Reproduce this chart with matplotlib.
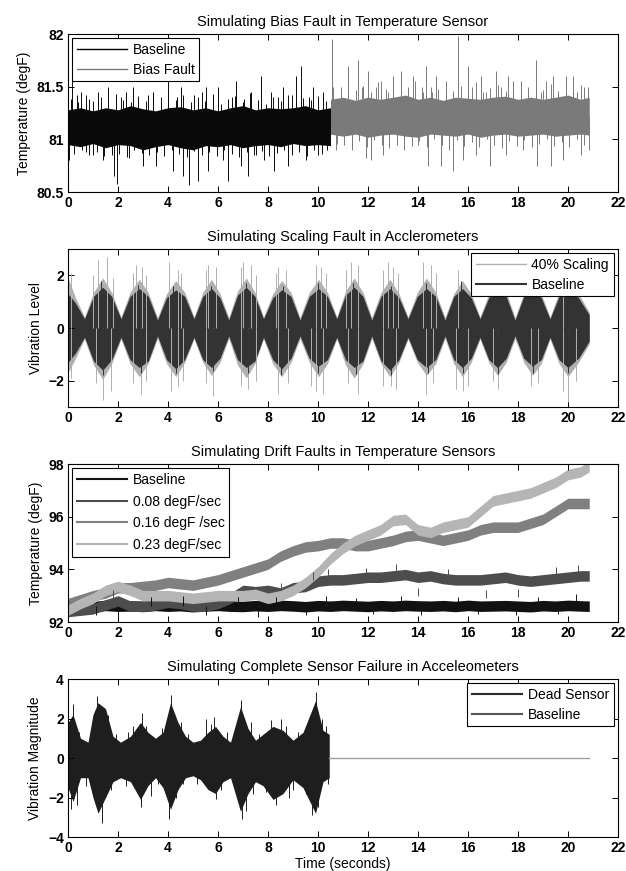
import matplotlib
matplotlib.use('Agg')
from matplotlib import pyplot as plt
from matplotlib.lines import Line2D

plt.rcParams['font.family'] = ['Liberation Sans', 'DejaVu Sans']
plt.rcParams['font.size'] = 9

# ---- panel 1: bias fault in temperature sensor
base_t = [0, 0.5, 1, 1.5, 2, 2.5, 3, 3.5, 4, 4.5, 5, 5.5, 6, 6.5, 7, 7.5, 8, 8.5, 9, 9.5, 10, 10.5]
base_hi = [81.28, 81.3, 81.27, 81.3, 81.28, 81.32, 81.29, 81.27, 81.3, 81.31, 81.28,
           81.3, 81.27, 81.3, 81.32, 81.28, 81.3, 81.29, 81.3, 81.32, 81.28, 81.3]
base_lo = [80.95, 80.93, 80.96, 80.92, 80.95, 80.94, 80.9, 80.93, 80.95, 80.92, 80.9,
           80.94, 80.93, 80.95, 80.92, 80.94, 80.95, 80.93, 80.96, 80.94, 80.95, 80.94]
base_level = 81.12
base_spk_t = [0.05, 0.15, 0.35, 0.5, 0.7, 0.85, 1.0, 1.2, 1.4, 1.6, 1.75, 1.82, 1.95, 2.1, 2.3,
              2.45, 2.6, 2.8, 3.0, 3.2, 3.4, 3.5, 3.7, 3.85, 4.0, 4.2, 4.35, 4.5, 4.6, 4.85,
              5.05, 5.2, 5.35, 5.5, 5.6, 5.8, 6.0, 6.2, 6.4, 6.55, 6.7, 6.9, 7.05, 7.2, 7.3,
              7.5, 7.7, 7.85, 8.1, 8.25, 8.4, 8.6, 8.8, 8.95, 9.1, 9.3, 9.5, 9.65, 9.8, 10.0,
              10.2, 10.35]
base_spk_v = [80.8, 81.95, 81.42, 81.45, 80.88, 81.38, 80.85, 81.45, 80.8, 81.5, 80.85, 80.65,
              80.58, 81.4, 81.45, 80.82, 81.5, 81.38, 80.75, 81.42, 81.45, 80.75, 81.4, 80.85,
              81.55, 80.7, 81.4, 81.5, 80.65, 80.57, 81.42, 80.6, 81.45, 81.5, 80.7, 81.4,
              81.5, 80.8, 80.6, 81.4, 81.55, 80.75, 81.38, 80.65, 81.45, 80.85, 81.6, 80.8,
              81.45, 80.7, 81.4, 81.5, 80.75, 81.42, 81.6, 81.7, 80.8, 81.4, 81.5, 80.85,
              81.45, 80.9]
# fringe of the dense noise, one sample every 0.15 s from t = 0.1
base_fringe = [81.38, 80.86, 81.35, 80.9, 81.42, 80.85, 81.36, 80.88, 81.4, 80.84,
               81.34, 80.89, 81.43, 80.86, 81.37, 80.83, 81.35, 80.9, 81.41, 80.87,
               81.36, 80.85, 81.44, 80.88, 81.34, 80.84, 81.39, 80.9, 81.37, 80.86,
               81.42, 80.83, 81.35, 80.89, 81.4, 80.85, 81.36, 80.88, 81.43, 80.84,
               81.34, 80.9, 81.38, 80.86, 81.41, 80.83, 81.35, 80.88, 81.44, 80.85,
               81.37, 80.89, 81.34, 80.84, 81.4, 80.87, 81.36, 80.9, 81.42, 80.85,
               81.35, 80.88, 81.39, 80.84, 81.37, 80.9, 81.41, 80.86, 81.36]

fault_t = [10.5, 11, 11.5, 12, 12.5, 13, 13.5, 14, 14.5, 15, 15.5, 16, 16.5, 17, 17.5, 18,
           18.5, 19, 19.5, 20, 20.5, 20.85]
fault_hi = [81.38, 81.4, 81.37, 81.4, 81.38, 81.4, 81.42, 81.38, 81.4, 81.37, 81.4,
            81.39, 81.38, 81.4, 81.41, 81.38, 81.4, 81.38, 81.4, 81.42, 81.38, 81.4]
fault_lo = [81.05, 81.03, 81.05, 81.02, 81.04, 81.05, 81.03, 81.02, 81.05, 81.04, 81.03,
            81.05, 81.02, 81.04, 81.05, 81.03, 81.04, 81.05, 81.03, 81.04, 81.05, 81.04]
fault_level = 81.22
fault_spk_t = [10.55, 10.7, 10.9, 11.05, 11.2, 11.35, 11.6, 11.75, 11.9, 12.0, 12.1, 12.3,
               12.5, 12.6, 12.8, 13.0, 13.15, 13.3, 13.45, 13.6, 13.8, 14.0, 14.15, 14.3,
               14.4, 14.55, 14.7, 14.9, 15.1, 15.25, 15.4, 15.6, 15.8, 16.0, 16.15, 16.3,
               16.5, 16.7, 16.9, 17.1, 17.3, 17.5, 17.6, 17.8, 18.1, 18.2, 18.4, 18.7, 18.75,
               18.9, 19.1, 19.3, 19.4, 19.6, 19.8, 19.9, 20.2, 20.35, 20.5, 20.65, 20.8, 20.85]
fault_spk_v = [81.95, 80.9, 81.5, 80.95, 81.7, 80.9, 81.75, 81.5, 80.82, 81.65, 80.8, 81.5,
               81.55, 80.85, 81.45, 81.6, 80.95, 81.65, 80.9, 81.5, 81.6, 80.95, 81.5, 81.7,
               80.75, 81.45, 81.6, 80.75, 81.55, 80.9, 80.7, 81.98, 80.8, 81.7, 81.5, 80.85,
               81.6, 81.45, 80.75, 81.65, 81.5, 80.85, 81.6, 81.45, 81.55, 80.9, 81.5, 81.75,
               80.75, 81.45, 81.55, 80.75, 81.6, 81.45, 80.8, 81.6, 81.6, 81.45, 80.85, 81.5,
               81.5, 80.9]
# fringe, one sample every 0.15 s from t = 10.6
fault_fringe = [81.5, 80.96, 81.46, 81.0, 81.53, 80.94, 81.47, 80.98, 81.51, 80.93,
                81.45, 80.99, 81.54, 80.95, 81.48, 80.92, 81.46, 81.0, 81.52, 80.96,
                81.47, 80.94, 81.55, 80.98, 81.45, 80.93, 81.5, 81.0, 81.48, 80.95,
                81.53, 80.92, 81.46, 80.99, 81.51, 80.94, 81.47, 80.97, 81.54, 80.93,
                81.45, 81.0, 81.49, 80.95, 81.52, 80.92, 81.46, 80.98, 81.55, 80.94,
                81.48, 80.99, 81.45, 80.93, 81.51, 80.96, 81.47, 81.0, 81.53, 80.94,
                81.46, 80.97, 81.5, 80.93, 81.48, 81.0, 81.52, 80.95, 81.47]

# ---- panel 2: scaling fault in accelerometers (envelopes of the vibration)
vib_t = [0, 0.3, 0.66, 1.02, 1.39, 1.75, 2.12, 2.48, 2.85, 3.21, 3.58, 3.94, 4.31, 4.67,
         5.04, 5.39, 5.74, 6.08, 6.43, 6.78, 7.13, 7.48, 7.82, 8.19, 8.55, 8.92, 9.28, 9.65,
         10.02, 10.38, 10.75, 11.1, 11.45, 11.8, 12.15, 12.52, 12.88, 13.24, 13.6, 13.97,
         14.34, 14.71, 15.08, 15.43, 15.78, 16.13, 16.48, 16.83, 17.18, 17.53, 17.88, 18.23,
         18.58, 18.93, 19.28, 19.64, 20.0, 20.42, 20.85]
vib_base_hi = [1.3, 0.95, 0.35, 1.2, 1.55, 1.2, 0.35, 1.2, 1.5, 1.2, 0.3, 1.15, 1.45, 1.2,
               0.35, 1.2, 1.5, 1.15, 0.3, 1.25, 1.55, 1.2, 0.35, 1.15, 1.45, 1.2, 0.3, 1.2,
               1.5, 1.2, 0.35, 1.25, 1.55, 1.2, 0.3, 1.2, 1.5, 1.15, 0.35, 1.2, 1.5, 1.2,
               0.3, 1.2, 1.5, 1.15, 0.35, 1.15, 1.45, 1.2, 0.3, 1.2, 1.5, 1.15, 0.35, 1.2,
               1.5, 1.15, 0.5]
vib_base_lo = [-1.3, -0.95, -0.35, -1.25, -1.6, -1.2, -0.35, -1.2, -1.5, -1.25, -0.3, -1.2,
               -1.55, -1.2, -0.35, -1.2, -1.5, -1.15, -0.3, -1.2, -1.5, -1.25, -0.35, -1.2,
               -1.55, -1.15, -0.3, -1.15, -1.45, -1.2, -0.35, -1.2, -1.5, -1.25, -0.3, -1.25,
               -1.6, -1.2, -0.35, -1.2, -1.5, -1.2, -0.3, -1.2, -1.5, -1.15, -0.35, -1.2,
               -1.5, -1.15, -0.3, -1.15, -1.45, -1.2, -0.35, -1.2, -1.5, -1.15, -0.5]
vib_scale_hi = [1.9, 1.15, 0.42, 1.35, 1.9, 1.35, 0.42, 1.35, 1.85, 1.35, 0.4, 1.3, 1.8, 1.35,
                0.42, 1.35, 1.85, 1.3, 0.4, 1.4, 1.9, 1.35, 0.42, 1.3, 1.8, 1.35, 0.4, 1.35,
                1.85, 1.35, 0.42, 1.4, 1.9, 1.35, 0.4, 1.35, 1.85, 1.3, 0.42, 1.35, 1.9, 1.35,
                0.4, 1.3, 1.8, 1.3, 0.42, 1.3, 1.8, 1.35, 0.4, 1.3, 1.8, 1.3, 0.42, 1.35,
                1.8, 1.3, 0.6]
vib_scale_lo = [-1.7, -1.15, -0.42, -1.4, -1.95, -1.35, -0.42, -1.35, -1.85, -1.35, -0.4,
                -1.35, -1.85, -1.3, -0.42, -1.3, -1.8, -1.3, -0.4, -1.4, -1.9, -1.35, -0.42,
                -1.35, -1.85, -1.3, -0.4, -1.3, -1.85, -1.35, -0.42, -1.4, -1.9, -1.35, -0.4,
                -1.35, -1.85, -1.3, -0.42, -1.3, -1.8, -1.35, -0.4, -1.35, -1.85, -1.3, -0.42,
                -1.3, -1.8, -1.3, -0.4, -1.3, -1.8, -1.35, -0.42, -1.35, -1.85, -1.3, -0.6]
scale_spk_t = [0.1, 1.2, 1.55, 2.7, 2.95, 4.05, 4.4, 5.6, 5.9, 7.0, 7.3, 8.4, 8.7, 9.9, 10.1,
               11.3, 11.6, 12.8, 13.0, 14.2, 14.5, 1.0, 1.8, 2.6, 3.1, 4.5, 5.5, 6.9, 7.5, 8.3,
               10.3, 11.1, 12.6, 13.2, 14.7, 15.6, 19.8,
               0.1, 1.4, 1.7, 2.9, 4.1, 4.4, 5.8, 7.2, 8.4, 9.9, 10.2, 11.6, 12.9, 14.3, 15.5,
               15.8, 17.2, 18.5, 19.8, 20.0, 1.1, 2.6, 3.1, 4.6, 5.5, 6.9, 7.5, 8.8, 9.7, 11.2,
               12.6, 13.1, 14.6, 16.0, 17.0, 18.8, 20.3]
scale_spk_v = [2.1, 2.6, 2.7, 2.4, 2.3, 2.5, 2.2, 2.4, 2.3, 2.5, 2.4, 2.3, 2.2, 2.4, 2.3,
               2.5, 2.4, 2.5, 2.3, 2.5, 2.4, 2.0, 1.9, 2.1, 2.0, 2.1, 2.2, 2.3, 2.0, 2.1,
               2.1, 2.2, 2.2, 2.1, 2.1, 2.2, 2.0,
               -1.9, -2.75, -2.4, -2.5, -2.4, -2.2, -2.6, -2.3, -2.5, -2.4, -2.5, -2.5, -2.2,
               -2.5, -2.3, -2.4, -2.3, -2.2, -2.4, -2.8, -2.1, -2.1, -2.0, -2.0, -2.1, -2.2,
               -2.0, -2.1, -2.2, -2.1, -2.2, -2.3, -2.1, -2.2, -2.0, -2.1, -2.0]
vbase_spk_t = [1.3, 2.8, 4.2, 5.7, 7.1, 8.6, 10.0, 11.4, 12.9, 14.3, 15.7, 20.0,
               1.4, 2.9, 4.3, 5.8, 7.2, 8.5, 10.0, 11.5, 12.9, 14.4, 15.8, 17.2, 18.6, 20.0]
vbase_spk_v = [1.8, 1.65, 1.6, 1.6, 1.7, 1.6, 1.7, 1.7, 1.6, 1.7, 1.8, 1.6,
               -1.8, -1.7, -1.7, -1.65, -1.7, -1.8, -1.7, -1.75, -1.8, -1.7, -1.7, -1.75,
               -1.7, -1.7]

# ---- panel 3: drift faults, band centres every 0.5 s (last sample at 20.85 s)
drift_base = [92.6, 92.62, 92.58, 92.63, 92.6, 92.61, 92.59, 92.63, 92.6, 92.62, 92.58,
              92.61, 92.63, 92.6, 92.59, 92.62, 92.6, 92.63, 92.61, 92.58, 92.62, 92.6,
              92.63, 92.61, 92.59, 92.62, 92.6, 92.63, 92.61, 92.6, 92.62, 92.59, 92.63,
              92.6, 92.61, 92.62, 92.6, 92.58, 92.62, 92.6, 92.63, 92.61, 92.6]
drift_008 = [92.4, 92.45, 92.5, 92.65, 92.8, 92.6, 92.6, 92.65, 92.75, 92.7, 92.6, 92.6,
             92.7, 92.9, 93.2, 93.15, 93.2, 93.1, 93.3, 93.35, 93.55, 93.6, 93.6, 93.65,
             93.7, 93.7, 93.75, 93.8, 93.7, 93.75, 93.65, 93.6, 93.6, 93.6, 93.65, 93.7,
             93.6, 93.55, 93.6, 93.65, 93.7, 93.75, 93.75]
drift_016 = [92.7, 92.85, 93.0, 93.1, 93.3, 93.3, 93.35, 93.4, 93.5, 93.45, 93.4, 93.5,
             93.6, 93.75, 93.9, 94.05, 94.2, 94.5, 94.7, 94.85, 94.9, 95.0, 95.0, 94.9,
             94.9, 95.0, 95.1, 95.25, 95.3, 95.2, 95.1, 95.2, 95.3, 95.5, 95.6, 95.6,
             95.6, 95.75, 95.9, 96.2, 96.5, 96.5, 96.5]
drift_023 = [92.45, 92.7, 92.9, 93.2, 93.35, 93.2, 93.0, 93.0, 93.0, 92.95, 92.9, 92.95,
             93.0, 93.0, 93.0, 93.05, 92.9, 93.0, 93.2, 93.5, 93.9, 94.4, 94.8, 95.1,
             95.3, 95.5, 95.85, 95.9, 95.5, 95.4, 95.6, 95.7, 95.8, 96.2, 96.6, 96.7,
             96.8, 96.9, 97.1, 97.3, 97.6, 97.7, 97.9]
drift_half = [0.2, 0.2, 0.2, 0.2]
drift_spk_t = [1.1, 2.0, 3.3, 4.6, 5.5, 6.8, 7.6, 8.3, 9.5, 10.3, 11.5, 12.2, 13.3, 14.1,
               15.6, 16.4, 17.9, 18.8, 19.6, 20.3]
drift_spk_v = [92.25, 92.2, 92.95, 93.0, 92.25, 92.95, 92.2, 92.95, 92.25, 93.0, 92.9,
               92.3, 93.0, 92.25, 92.95, 92.3, 92.25, 92.95, 92.3, 93.05]
d008_spk_t = [1.8, 8.5, 9.8, 10.4, 11.9, 13.1, 14.0, 15.2, 16.7, 18.0, 19.5, 20.4]
d008_spk_v = [93.2, 93.5, 93.9, 94.0, 94.05, 94.2, 93.3, 94.0, 93.2, 93.25, 94.1, 94.15]

# ---- panel 4: complete sensor failure
dead_t = [0, 0.2, 0.5, 0.8, 1.0, 1.2, 1.5, 1.8, 2.1, 2.5, 2.9, 3.2, 3.5, 3.8, 4.1, 4.4,
          4.7, 5.0, 5.3, 5.6, 5.9, 6.2, 6.5, 6.9, 7.2, 7.5, 7.8, 8.2, 8.6, 9.0, 9.4, 9.9,
          10.2, 10.45]
dead_hi = [1.8, 2.2, 1.0, 0.8, 2.2, 2.8, 2.5, 1.1, 0.8, 1.1, 1.8, 1.3, 1.0, 1.3, 2.8, 1.8,
           1.1, 0.8, 0.9, 1.3, 1.6, 1.1, 0.8, 2.6, 1.5, 0.9, 1.2, 1.6, 1.4, 0.9, 1.3, 2.9,
           1.4, 1.2]
dead_lo = [-1.5, -2.2, -1.0, -1.0, -2.0, -2.8, -2.0, -1.2, -1.0, -1.2, -2.1, -1.4, -1.0,
           -1.5, -2.6, -1.6, -1.0, -0.9, -1.1, -1.6, -1.8, -1.2, -1.0, -2.7, -1.8, -1.2,
           -1.4, -2.1, -1.8, -1.1, -1.5, -2.8, -1.2, -1.0]
dead_spk_t = [0.1, 0.2, 0.35, 1.15, 1.35, 1.6, 2.6, 2.95, 2.9, 3.3, 4.1, 4.05, 4.5, 5.5,
              5.85, 5.9, 6.9, 6.95, 7.1, 7.4, 8.1, 8.3, 8.5, 9.0, 9.9, 9.75, 10.3, 10.4,
              0.45, 0.7, 0.95, 1.7, 1.9, 2.3, 2.4, 3.1, 3.6, 3.75, 4.3, 4.6, 4.8, 5.15, 5.7,
              6.1, 6.35, 6.6, 7.3, 7.65, 7.9, 8.7, 8.85, 9.2, 9.5, 10.0, 10.15]
dead_spk_v = [-2.6, 2.75, -2.4, 3.15, -3.3, 2.2, 1.6, 2.3, -2.5, -1.9, 3.2, -3.1, 1.8, 2.0,
              2.1, -2.1, 2.95, -3.1, -2.7, -1.8, 1.9, -2.4, 2.0, -1.6, 3.35, -2.9, 1.6, -1.3,
              1.3, -1.4, 1.5, -1.6, 1.2, -1.4, 1.3, 1.6, -1.3, 1.5, -2.0, -1.3, 1.2, -1.3, 1.7,
              -1.6, 1.3, -1.2, 1.8, 1.2, -1.7, 1.6, -2.0, 1.3, -1.8, -2.5, 2.0]
flat_t = [10.45, 20.85]
flat_v = [0, 0]

xticks = list(range(0, 23, 2))
base_fringe_t = [0.1 + 0.15 * i for i in range(len(base_fringe))]
fault_fringe_t = [10.6 + 0.15 * i for i in range(len(fault_fringe))]
drift_t = [0.5 * i for i in range(42)] + [20.85]

fig = plt.figure(figsize=(6.26, 8.71), dpi=100)
left, width, height = 68 / 626, 550 / 626, 158 / 871
bottoms = [1 - 192 / 871, 1 - 407 / 871, 1 - 622 / 871, 1 - 837 / 871]
axs = [fig.add_axes([left, b, width, height]) for b in bottoms]


def style(ax, title, ylabel, ylim, yticks, yticklabels=None):
    ax.set_xlim(0, 22)
    ax.set_ylim(*ylim)
    ax.set_xticks(xticks)
    ax.set_yticks(yticks)
    if yticklabels:
        ax.set_yticklabels(yticklabels)
    ax.tick_params(direction='in', top=True, right=True, length=4, width=0.7,
                   labelsize=10, pad=3)
    for lab in ax.get_xticklabels() + ax.get_yticklabels():
        lab.set_fontweight('bold')
    for s in ax.spines.values():
        s.set_linewidth(0.8)
    ax.set_title(title, fontsize=10.5, pad=6)
    ax.set_ylabel(ylabel, fontsize=10, labelpad=4)


def legend(ax, handles, labels, loc, spacing=0.4):
    lg = ax.legend(handles, labels, loc=loc, fancybox=False, edgecolor='k', framealpha=1,
                   handlelength=3.6, handletextpad=0.4, labelspacing=spacing, borderpad=0.35,
                   borderaxespad=0.3, fontsize=10)
    lg.get_frame().set_linewidth(0.8)


# panel 1
ax = axs[0]
ax.fill_between(base_t, base_lo, base_hi, color='#0a0a0a', lw=0)
ax.vlines(base_fringe_t, base_level, base_fringe, color='#0a0a0a', lw=0.7)
ax.vlines(base_spk_t, base_level, base_spk_v, color='#0a0a0a', lw=0.7)
ax.fill_between(fault_t, fault_lo, fault_hi, color='#7a7a7a', lw=0)
ax.vlines(fault_fringe_t, fault_level, fault_fringe, color='#7a7a7a', lw=0.7)
ax.vlines(fault_spk_t, fault_level, fault_spk_v, color='#7a7a7a', lw=0.7)
style(ax, 'Simulating Bias Fault in Temperature Sensor', 'Temperature (degF)',
      (80.5, 82), [80.5, 81, 81.5, 82], ['80.5', '81', '81.5', '82'])
legend(ax, [Line2D([], [], color='k', lw=1), Line2D([], [], color='#7a7a7a', lw=1)],
       ['Baseline', 'Bias Fault'], 'upper left')

# panel 2
ax = axs[1]
ax.fill_between(vib_t, vib_scale_lo, vib_scale_hi, color='#b0b0b0', lw=0)
ax.vlines(scale_spk_t, 0, scale_spk_v, color='#b0b0b0', lw=0.7)
ax.fill_between(vib_t, vib_base_lo, vib_base_hi, color='#333333', lw=0)
ax.vlines(vbase_spk_t, 0, vbase_spk_v, color='#333333', lw=0.7)
style(ax, 'Simulating Scaling Fault in Acclerometers', 'Vibration Level',
      (-3, 3), [-2, 0, 2])
legend(ax, [Line2D([], [], color='#b0b0b0', lw=1), Line2D([], [], color='#333333', lw=1.5)],
       ['40% Scaling', 'Baseline'], 'upper right')

# panel 3
ax = axs[2]
drift_cols = ['#111111', '#4d4d4d', '#808080', '#b5b5b5']
drift_sets = [drift_base, drift_008, drift_016, drift_023]
for vals, c, hw in zip(drift_sets, drift_cols, drift_half):
    ax.fill_between(drift_t, [v - hw for v in vals], [v + hw for v in vals], color=c, lw=0)
    if c == '#111111':
        ax.vlines(drift_spk_t, 92.6, drift_spk_v, color=c, lw=0.7)
    if c == '#4d4d4d':
        ax.vlines(d008_spk_t, [v - 0.3 for v in d008_spk_v], d008_spk_v, color=c, lw=0.7)
style(ax, 'Simulating Drift Faults in Temperature Sensors', 'Temperature (degF)',
      (92, 98), [92, 94, 96, 98])
legend(ax, [Line2D([], [], color=c, lw=1.5) for c in drift_cols],
       ['Baseline', '0.08 degF/sec', '0.16 degF /sec', '0.23 degF/sec'], 'upper left',
       spacing=0.55)

# panel 4
ax = axs[3]
ax.fill_between(dead_t, dead_lo, dead_hi, color='#1e1e1e', lw=0)
ax.vlines(dead_spk_t, 0, dead_spk_v, color='#1e1e1e', lw=0.7)
ax.plot(flat_t, flat_v, color='#a0a0a0', lw=1)
style(ax, 'Simulating Complete Sensor Failure in Acceleometers', 'Vibration Magnitude',
      (-4, 4), [-4, -2, 0, 2, 4])
ax.set_xlabel('Time (seconds)', fontsize=10, labelpad=1)
legend(ax, [Line2D([], [], color='#2a2a2a', lw=1.5), Line2D([], [], color='#555555', lw=1.5)],
       ['Dead Sensor', 'Baseline'], 'upper right')

fig.savefig('out.png', dpi=100)
